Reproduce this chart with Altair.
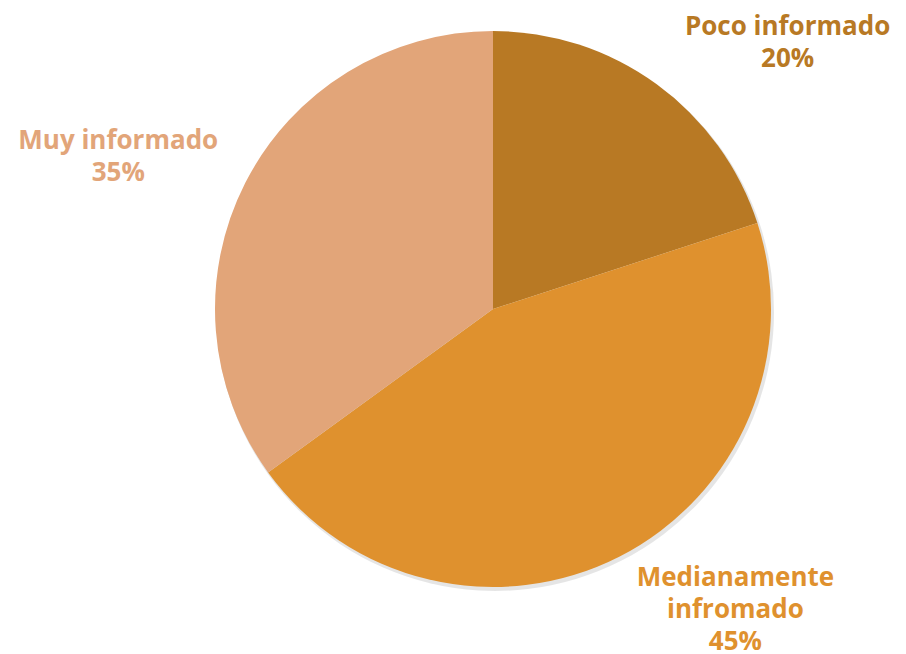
import altair as alt
import pandas as pd

categorias = ["Poco informado", "Medianamente infromado", "Muy informado"]
porcentajes = [20, 45, 35]
etiquetas = [["Poco informado", "20%"], ["Medianamente", "infromado", "45%"], ["Muy informado", "35%"]]
colores = ["#B87924", "#DF912E", "#E2A579"]

df = pd.DataFrame({
    "categoria": categorias,
    "valor": porcentajes,
    "orden": list(range(len(categorias))),
    "etiqueta": etiquetas,
})

CX, CY, R = 485, 301, 278
TWO_PI = 6.283185307179586

theta_scale = alt.Scale(domain=[0, 1], range=[0, TWO_PI])
color_enc = alt.Color("categoria:N", scale=alt.Scale(domain=categorias, range=colores), legend=None)

base = alt.Chart(df).transform_window(
    acum="sum(valor)", sort=[alt.SortField("orden")]
).transform_joinaggregate(total="sum(valor)").transform_calculate(
    inicio="(datum.acum - datum.valor) / datum.total",
    fin="datum.acum / datum.total",
    medio="(datum.acum - datum.valor / 2) / datum.total",
)

shadow = base.mark_arc(radius=R + 1, color="#000000", opacity=0.10).encode(
    theta=alt.Theta("inicio:Q", scale=theta_scale, stack=None),
    theta2="fin:Q",
    x=alt.value(CX + 2), y=alt.value(CY + 3),
)

pie = base.mark_arc(radius=R).encode(
    theta=alt.Theta("inicio:Q", scale=theta_scale, stack=None),
    theta2="fin:Q",
    color=color_enc,
    x=alt.value(CX), y=alt.value(CY),
)

label_params = {
    "Poco informado": dict(radius=360, dx=83, dy=9),
    "Medianamente infromado": dict(radius=382, dx=69, dy=-71),
    "Muy informado": dict(radius=406, dx=-13, dy=16),
}

labels = []
for cat in categorias:
    p = label_params[cat]
    labels.append(
        base.transform_filter(alt.datum.categoria == cat).mark_text(
            radius=p["radius"], dx=p["dx"], dy=p["dy"],
            font="Open Sans", fontSize=26, fontWeight="bold",
            align="center", baseline="middle", lineHeight=32,
        ).encode(
            theta=alt.Theta("medio:Q", scale=theta_scale, stack=None),
            text="etiqueta",
            color=color_enc,
            x=alt.value(CX), y=alt.value(CY),
        )
    )

chart = alt.layer(shadow, pie, *labels).properties(
    width=890, height=646, padding=0, autosize=alt.AutoSizeParams(type="none"),
    background="#FFFFFF",
).configure_view(stroke=None)

chart.save("out.html", embed_options={"renderer": "svg", "actions": False})
